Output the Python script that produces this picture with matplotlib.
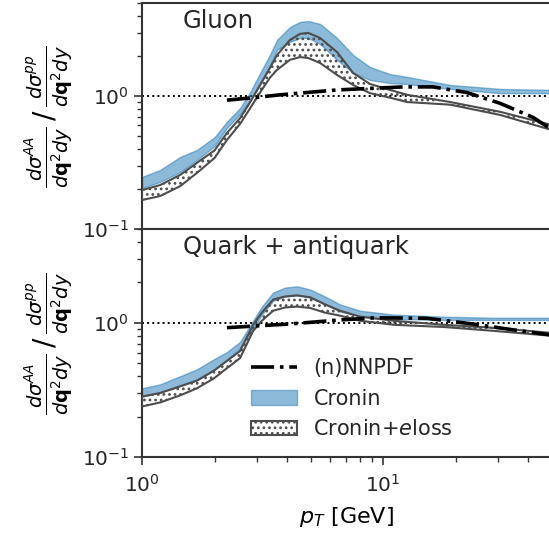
import matplotlib
matplotlib.use('Agg')
import matplotlib.pyplot as plt

# Gluon panel
g_pt = [1.0, 1.19, 1.44, 1.69, 2.0, 2.25, 2.55, 2.81, 3.14, 3.39, 3.63, 4.11, 4.52, 4.89,
        5.48, 6.44, 7.51, 8.83, 10.7, 12.6, 19.0, 30.6, 50.0]
g_cronin_hi = [0.246, 0.278, 0.348, 0.393, 0.49, 0.64, 0.81, 1.07, 1.57, 2.03, 2.64, 3.3, 3.6, 3.66,
               3.48, 2.73, 2.03, 1.65, 1.46, 1.39, 1.21, 1.13, 1.11]
g_cronin_lo = [0.203, 0.226, 0.268, 0.33, 0.42, 0.575, 0.73, 0.93, 1.32, 1.68, 2.22, 2.55, 2.73, 2.73,
               2.46, 1.87, 1.49, 1.32, 1.25, 1.23, 1.13, 1.05, 1.05]
g_eloss_hi = [0.196, 0.214, 0.255, 0.314, 0.39, 0.527, 0.68, 0.90, 1.27, 1.62, 2.03, 2.64, 2.93, 2.98,
              2.73, 2.14, 1.49, 1.23, 1.11, 1.02, 0.90, 0.76, 0.605]
g_eloss_lo = [0.165, 0.177, 0.21, 0.264, 0.342, 0.467, 0.616, 0.81, 1.11, 1.37, 1.57, 1.87, 1.96, 1.93,
              1.77, 1.44, 1.21, 1.05, 0.97, 0.90, 0.86, 0.72, 0.555]

g_nn_pt = [2.25, 2.89, 3.74, 6.44, 12.1, 16.1, 22.3, 30.6, 41.9, 50.0]
g_nnpdf = [0.93, 0.97, 1.02, 1.11, 1.17, 1.17, 1.06, 0.88, 0.69, 0.56]

# Quark + antiquark panel
q_pt = [1.0, 1.19, 1.44, 1.69, 1.99, 2.25, 2.55, 2.89, 3.14, 3.5, 3.92, 4.4, 4.98, 5.74,
        6.63, 8.03, 11.1, 17.9, 28.9, 50.0]
q_cronin_hi = [0.325, 0.348, 0.40, 0.45, 0.536, 0.605, 0.72, 1.035, 1.32, 1.68, 1.83, 1.87, 1.77, 1.57,
               1.37, 1.23, 1.15, 1.11, 1.09, 1.09]
q_cronin_lo = [0.282, 0.303, 0.342, 0.38, 0.45, 0.527, 0.65, 0.90, 1.15, 1.46, 1.57, 1.60, 1.54, 1.39,
               1.21, 1.13, 1.07, 1.05, 1.05, 1.05]
q_eloss_hi = [0.282, 0.30, 0.336, 0.37, 0.44, 0.52, 0.616, 0.966, 1.19, 1.49, 1.57, 1.60, 1.55, 1.37,
              1.23, 1.11, 1.035, 0.966, 0.917, 0.84]
q_eloss_lo = [0.238, 0.255, 0.288, 0.325, 0.386, 0.459, 0.545, 0.87, 1.035, 1.23, 1.30, 1.32, 1.29, 1.19,
              1.13, 1.035, 0.966, 0.93, 0.87, 0.80]

q_nn_pt = [2.25, 4.1, 6.63, 9.4, 15.2, 24.6, 34.0, 50.0]
q_nnpdf = [0.92, 0.98, 1.05, 1.09, 1.08, 0.97, 0.89, 0.81]

titles = ['Gluon', 'Quark + antiquark']

plt.rcParams['font.family'] = 'DejaVu Sans'
plt.rcParams['text.color'] = '0.15'
plt.rcParams['axes.edgecolor'] = '0.2'
plt.rcParams['xtick.color'] = '0.2'
plt.rcParams['ytick.color'] = '0.2'
plt.rcParams['xtick.labelcolor'] = '0.15'
plt.rcParams['ytick.labelcolor'] = '0.15'
plt.rcParams['hatch.linewidth'] = 1.2

fig = plt.figure(figsize=(5.49, 5.35), dpi=100)
ax_top = fig.add_axes([0.2587, 0.572, 0.746, 0.4224])
ax_bot = fig.add_axes([0.2587, 0.1458, 0.746, 0.4262], sharex=ax_top)

panels = [
    (ax_top, g_pt, g_cronin_lo, g_cronin_hi, g_eloss_lo, g_eloss_hi, g_nn_pt, g_nnpdf),
    (ax_bot, q_pt, q_cronin_lo, q_cronin_hi, q_eloss_lo, q_eloss_hi, q_nn_pt, q_nnpdf),
]

ylab = r'$\frac{d\sigma^{AA}}{d\mathbf{q}^2dy}\,/\,\frac{d\sigma^{pp}}{d\mathbf{q}^2dy}$'

for i, (ax, pt, clo, chi, elo, ehi, npt, nn) in enumerate(panels):
    ax.axhline(1.0, color='black', ls=':', lw=1.4, zorder=1)
    ax.plot(npt, nn, color='black', ls='-.', lw=2.6, label='(n)NNPDF', zorder=4)
    ax.fill_between(pt, clo, chi, facecolor='#1f77b4', alpha=0.5, edgecolor='#1f77b4',
                    lw=1.0, label='Cronin', zorder=2)
    ax.fill_between(pt, elo, ehi, facecolor='none', edgecolor='0.3', hatch='...',
                    lw=1.5, label='Cronin+$e$loss', zorder=3)
    ax.set_xscale('log')
    ax.set_yscale('log')
    ax.set_xlim(1, 50)
    ax.set_ylim(0.1, 5)
    ax.text(0.1, 0.975, titles[i], transform=ax.transAxes, ha='left', va='top', fontsize=17.5)
    ax.set_ylabel(ylab, fontsize=20, labelpad=5)
    ax.tick_params(which='major', labelsize=14.5, length=6, width=1.2, direction='out')
    ax.tick_params(which='minor', length=3.5, width=1.0, direction='out')
    ax.tick_params(axis='x', which='major', pad=6)
    for sp in ax.spines.values():
        sp.set_linewidth(1.5)

ax_top.tick_params(axis='x', which='both', labelbottom=False)
ax_bot.set_xlabel(r'$p_T$ [GeV]', fontsize=16, labelpad=7)

leg = ax_bot.legend(loc='upper left', bbox_to_anchor=(0.22, 0.515), frameon=False,
                    fontsize=15, handlelength=2.2, labelspacing=0.5)

fig.savefig('out.png', dpi=100)
